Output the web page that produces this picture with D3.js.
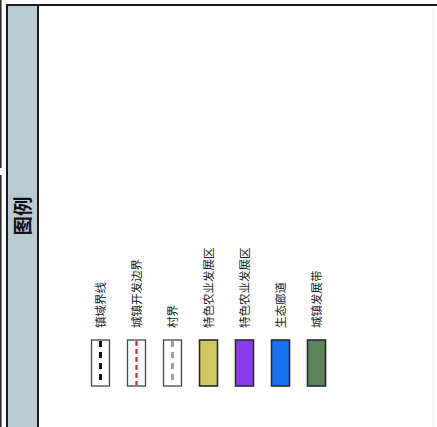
<!DOCTYPE html>
<html>
<head>
<meta charset="utf-8">
<script src="https://cdn.jsdelivr.net/npm/d3@7"></script>
<style>
  html, body { margin: 0; padding: 0; background: #fff; }
  svg { display: block; }
</style>
</head>
<body>
<div id="chart"></div>
<script>
const title = '图例';
const labels = ['镇域界线', '城镇开发边界', '村界', '特色农业发展区', '特色农业发展区', '生态廊道', '城镇发展带'];
const kinds = ['line', 'line', 'line', 'fill', 'fill', 'fill', 'fill'];
const colors = ['#111111', '#d42a32', '#a0a0a0', '#d3c762', '#8b3cef', '#1673ee', '#5c845c'];

const width = 437;
const height = 427;

const svg = d3.select('#chart').append('svg')
  .attr('width', width)
  .attr('height', height);

// outer frame pieces
svg.append('line')
  .attr('x1', 0.8).attr('x2', 0.8).attr('y1', 0).attr('y2', 168)
  .attr('stroke', '#222').attr('stroke-width', 1.5);
svg.append('line')
  .attr('x1', 0.8).attr('x2', 0.8).attr('y1', 175).attr('y2', height)
  .attr('stroke', '#222').attr('stroke-width', 1.5);
svg.append('line')
  .attr('x1', 433.5).attr('x2', 433.5).attr('y1', 8).attr('y2', height)
  .attr('stroke', '#eeeeee').attr('stroke-width', 1);

// title panel
svg.append('rect')
  .attr('x', 7).attr('y', 5).attr('width', 31).attr('height', height)
  .attr('fill', '#b9cad3')
  .attr('stroke', '#1a1a1a').attr('stroke-width', 2);

svg.append('line')
  .attr('x1', 6).attr('x2', width).attr('y1', 5).attr('y2', 5)
  .attr('stroke', '#1a1a1a').attr('stroke-width', 2.2);

svg.append('text')
  .attr('transform', 'translate(23,216) rotate(-90)')
  .attr('text-anchor', 'middle')
  .attr('dy', '0.36em')
  .attr('font-family', '"Noto Sans CJK SC", sans-serif')
  .attr('font-weight', 'bold')
  .attr('font-size', 19.5)
  .attr('fill', '#111')
  .text(title);

// legend items
const x = d3.scalePoint()
  .domain(d3.range(labels.length))
  .range([100.5, 316.5]);

const boxW = 18;
const boxTop = 340;
const boxH = 46;
const labelBase = 328;

const items = svg.append('g')
  .selectAll('g')
  .data(labels.map((label, i) => ({ label, kind: kinds[i], color: colors[i], i })))
  .join('g');

items.append('rect')
  .attr('x', d => x(d.i) - boxW / 2)
  .attr('y', boxTop)
  .attr('width', boxW)
  .attr('height', boxH)
  .attr('fill', d => d.kind === 'fill' ? d.color : '#fff')
  .attr('stroke', d => d.kind === 'fill' ? '#2a2a2a' : '#444')
  .attr('stroke-width', d => d.kind === 'fill' ? 1.6 : 1.3);

items.filter(d => d.kind === 'line')
  .append('line')
  .attr('x1', d => x(d.i))
  .attr('x2', d => x(d.i))
  .attr('y1', boxTop + 1)
  .attr('y2', boxTop + boxH - 1)
  .attr('stroke', d => d.color)
  .attr('stroke-width', d => d.i === 1 ? 2.2 : 3)
  .attr('stroke-dasharray', d => d.i === 1 ? '5,3' : '6,5');

items.append('text')
  .attr('transform', d => `translate(${x(d.i)},${labelBase}) rotate(-90)`)
  .attr('text-anchor', 'start')
  .attr('dy', '0.36em')
  .attr('font-family', '"Noto Sans CJK SC", sans-serif')
  .attr('font-weight', 400)
  .attr('font-size', 11.5)
  .attr('fill', '#222')
  .text(d => d.label);
</script>
</body>
</html>
